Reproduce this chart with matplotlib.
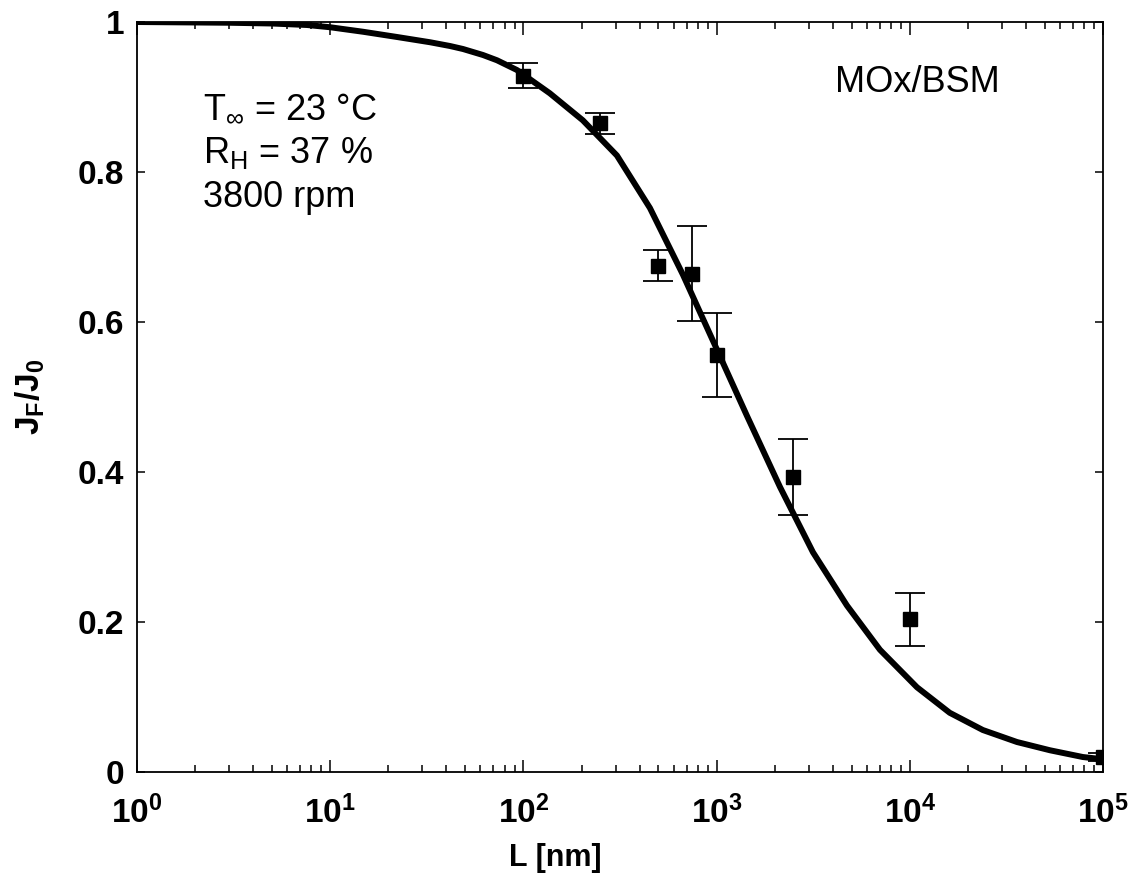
import numpy as np
import matplotlib.pyplot as plt

plt.rcParams['font.family'] = ['Liberation Sans', 'DejaVu Sans']
plt.rcParams['mathtext.fontset'] = 'custom'
plt.rcParams['mathtext.rm'] = 'Liberation Sans'
plt.rcParams['mathtext.it'] = 'Liberation Sans:italic'
plt.rcParams['mathtext.bf'] = 'Liberation Sans:bold'

# measured points
L_data = [100, 250, 500, 750, 1000, 2500, 10000, 100000]
J_data = [0.928, 0.865, 0.675, 0.664, 0.556, 0.393, 0.204, 0.020]
err_lo = [0.016, 0.014, 0.020, 0.063, 0.056, 0.050, 0.036, 0.005]
err_hi = [0.017, 0.014, 0.021, 0.064, 0.056, 0.051, 0.035, 0.005]

# model curve
L_fit = [1, 3, 5, 7.6, 10, 14.8, 22.2, 32.9, 41.7, 48.7, 61.8, 73, 92.6, 137,
         203, 305, 452, 670, 958, 1436, 2130, 3155, 4730, 7010, 10900, 16100,
         23900, 35900, 53200, 78700, 100000]
J_fit = [1.0, 0.999, 0.998, 0.996, 0.993, 0.987, 0.980, 0.973, 0.968, 0.964,
         0.956, 0.949, 0.936, 0.905, 0.869, 0.822, 0.752, 0.663, 0.575, 0.475,
         0.380, 0.293, 0.222, 0.163, 0.113, 0.079, 0.056, 0.040, 0.029, 0.020,
         0.017]

fig = plt.figure(figsize=(11.31, 8.8), dpi=100)
ax = fig.add_axes([0.1211, 0.1227, 0.8541, 0.8523])

ax.semilogx(L_fit, J_fit, color='black', lw=4.3, solid_joinstyle='round', zorder=2)
ax.errorbar(L_data, J_data, yerr=[err_lo, err_hi], fmt='s', color='black',
            ms=10, ecolor='black', elinewidth=1.3, capsize=11, capthick=1.3, zorder=3)

ax.set_xlim(1, 1e5)
ax.set_ylim(0, 1)
ax.set_xticks([1, 10, 100, 1000, 10000, 100000])
ax.set_xticklabels([r'$\mathbf{10^{%d}}$' % i for i in range(6)])
ax.set_yticks([0, 0.2, 0.4, 0.6, 0.8, 1])
ax.set_yticklabels(['0', '0.2', '0.4', '0.6', '0.8', '1'])

for s in ax.spines.values():
    s.set_linewidth(1.3)
ax.tick_params(which='both', direction='in', top=True, right=True, width=1.1)
ax.tick_params(axis='x', which='major', length=9, labelsize=24, pad=17)
ax.tick_params(axis='x', which='minor', length=5)
ax.tick_params(axis='y', which='major', length=6, labelsize=24, pad=9)
for lab in ax.get_yticklabels():
    lab.set_fontweight('bold')

ax.set_xlabel('L [nm]', fontsize=22, fontweight='bold')
ax.xaxis.set_label_coords(0.433, -0.094)
ax.set_ylabel(r'$\mathbf{J_F/J_0}$', fontsize=24, labelpad=22)

ax.text(0.068, 0.872, r'T$_\infty$ = 23 °C', transform=ax.transAxes, fontsize=26, va='baseline')
ax.text(0.068, 0.812, r'R$_\mathrm{H}$ = 37 %', transform=ax.transAxes, fontsize=26, va='baseline')
ax.text(0.068, 0.753, '3800 rpm', transform=ax.transAxes, fontsize=26, va='baseline')
ax.text(0.7226, 0.907, 'MOx/BSM', transform=ax.transAxes, fontsize=26, va='baseline')

fig.savefig('out.png', dpi=100)
